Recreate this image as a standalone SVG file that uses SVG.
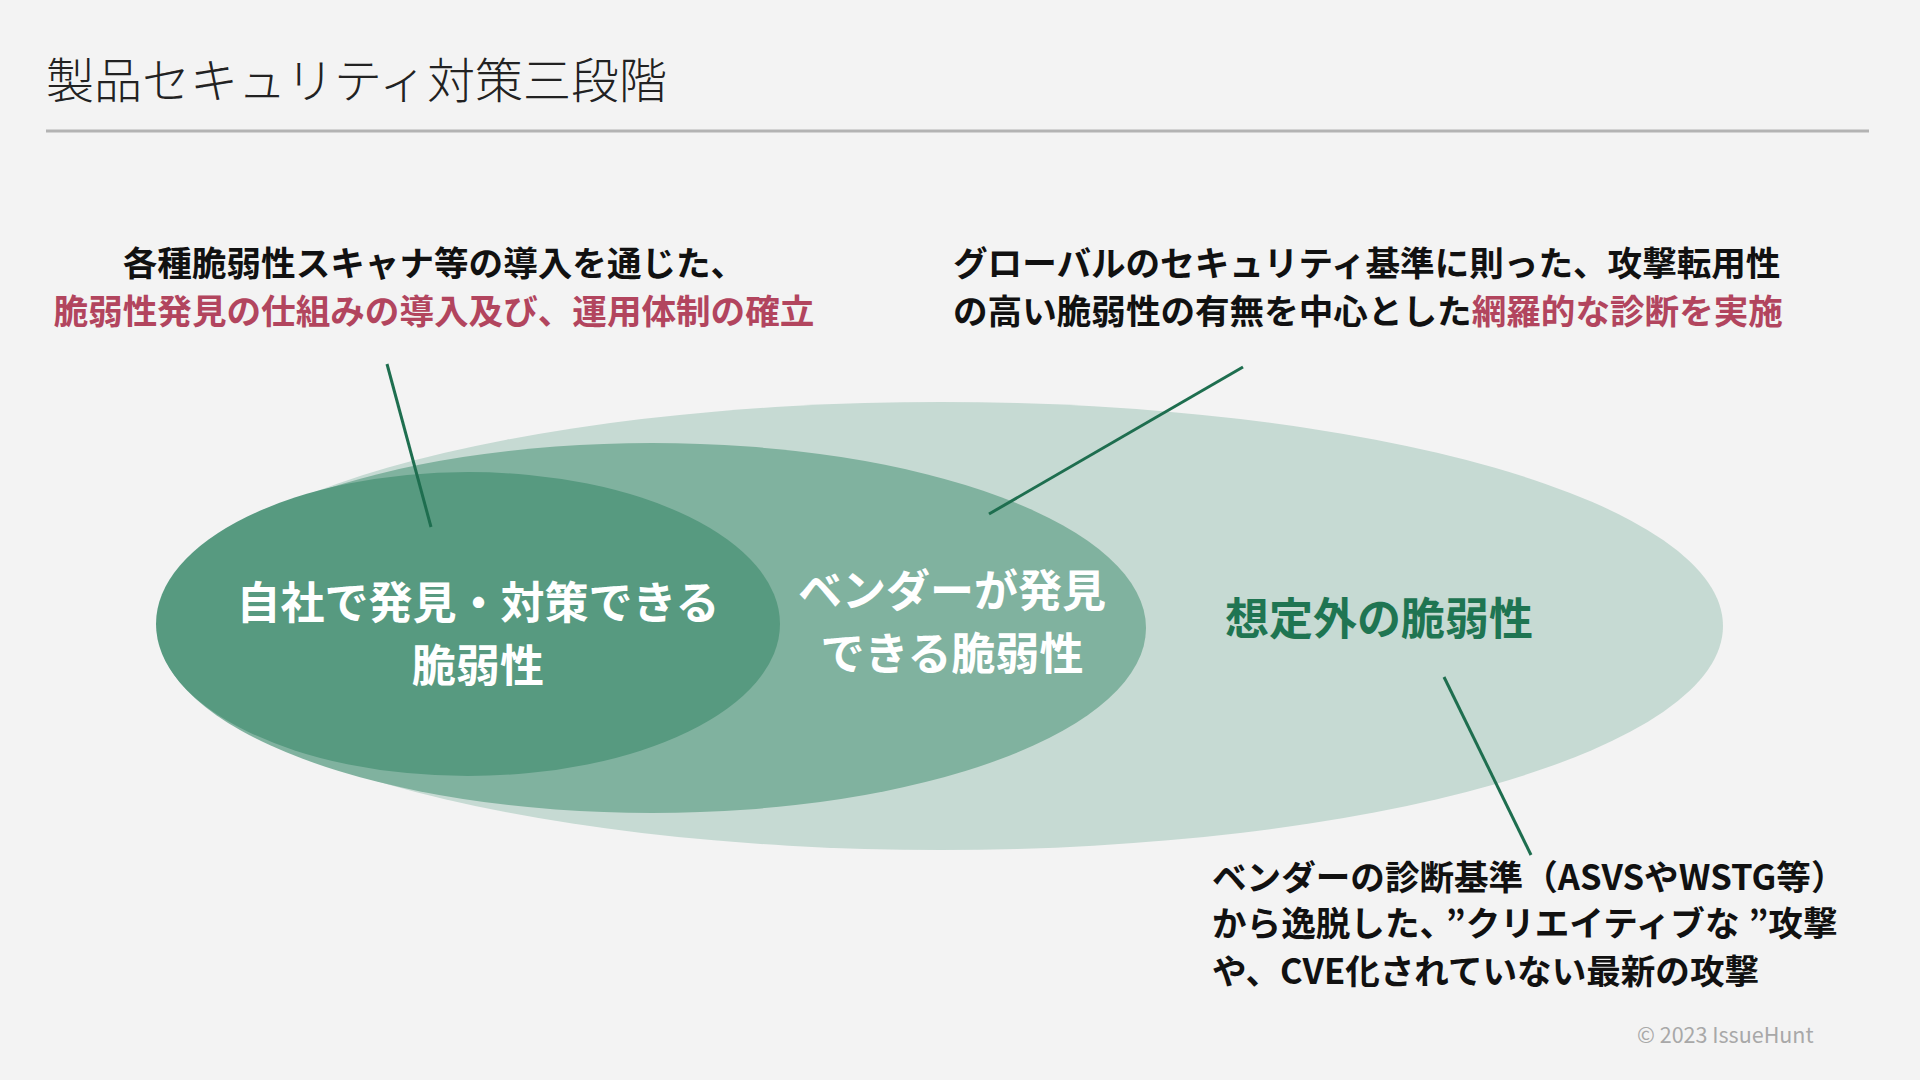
<svg xmlns="http://www.w3.org/2000/svg" width="1920" height="1080" viewBox="0 0 1920 1080">
<style>
text{font-family:"Noto Sans CJK JP","Noto Sans",sans-serif;}
.title{font-size:48px;font-weight:300;fill:#222;}
.ann{font-size:34.6px;font-weight:700;fill:#111;}
.red{fill:#b2455e;}
.lbl{font-size:44px;font-weight:700;fill:#fff;text-anchor:middle;}
.glbl{font-size:44px;font-weight:700;fill:#1f7552;text-anchor:middle;}
.conn{stroke:#1e6e4f;stroke-width:3;fill:none;}
.copy{font-size:21.5px;font-weight:400;fill:#a8a8a8;}
</style>
<rect width="1920" height="1080" fill="#f3f3f3"/>
<g id="title">
<text class="title" x="46" y="98">製品セキュリティ対策三段階</text>
<line x1="46" y1="131" x2="1869" y2="131" stroke="#b3b3b3" stroke-width="3"/>
</g>
<g id="node-unexpected">
<ellipse cx="941" cy="626" rx="782" ry="224" fill="#c6dad3"/>
</g>
<g id="node-vendor">
<ellipse cx="652" cy="628" rx="494" ry="185" fill="#80b29f"/>
</g>
<g id="node-inhouse">
<ellipse cx="468" cy="624" rx="312" ry="152" fill="#579a80"/>
</g>
<g id="labels">
<text class="lbl" x="478" y="619">自社で発見・対策できる</text>
<text class="lbl" x="478" y="682">脆弱性</text>
<text class="lbl" x="952" y="607">ベンダーが発見</text>
<text class="lbl" x="952" y="670">できる脆弱性</text>
<text class="glbl" x="1379" y="635">想定外の脆弱性</text>
</g>
<g id="connectors">
<line class="conn" x1="387" y1="364" x2="431" y2="527"/>
<line class="conn" x1="1243" y1="367" x2="989" y2="514"/>
<line class="conn" x1="1444" y1="677" x2="1531" y2="855"/>
</g>
<g id="note-inhouse">
<text class="ann" x="434" y="276" text-anchor="middle">各種脆弱性スキャナ等の導入を通じた、</text>
<text class="ann red" x="434" y="324" text-anchor="middle">脆弱性発見の仕組みの導入及び、運用体制の確立</text>
</g>
<g id="note-vendor">
<text class="ann" x="953" y="276">グローバルのセキュリティ基準に則った、攻撃転用性</text>
<text class="ann" x="953" y="324">の高い脆弱性の有無を中心とした<tspan class="red">網羅的な診断を実施</tspan></text>
</g>
<g id="note-unexpected">
<text class="ann" x="1212" y="890">ベンダーの診断基準（ASVSやWSTG等）</text>
<text class="ann" x="1212" y="936">から逸脱した、<tspan dx="9">”</tspan>クリエイティブな<tspan dx="9">”</tspan>攻撃</text>
<text class="ann" x="1212" y="984">や、CVE化されていない最新の攻撃</text>
</g>
<text class="copy" x="1637" y="1043">© 2023 IssueHunt</text>
</svg>
